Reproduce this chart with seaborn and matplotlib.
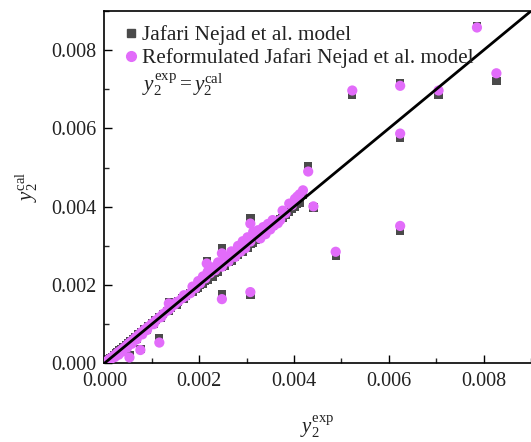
import matplotlib
matplotlib.use("Agg")
import matplotlib.pyplot as plt
import seaborn as sns
import pandas as pd
from matplotlib.lines import Line2D
from matplotlib.ticker import MultipleLocator

# ---- data ----
x_exp = [0.00001, 0.00003, 0.00005, 0.00008, 0.00010, 0.00013, 0.00016, 0.00020,
         0.00024, 0.00028, 0.00032, 0.00036, 0.00040, 0.00045, 0.00050, 0.00055,
         0.00060, 0.00066, 0.00072, 0.00078, 0.00085, 0.00092, 0.00100, 0.00108,
         0.00116, 0.00124, 0.00132, 0.00140, 0.00148, 0.00156, 0.00164, 0.00172,
         0.00181, 0.00192, 0.00202, 0.00213, 0.00223, 0.00234, 0.00248, 0.00262,
         0.00276, 0.00287, 0.00297, 0.00308, 0.00319, 0.00329, 0.00340, 0.00350,
         0.00358, 0.00366, 0.00371, 0.00382, 0.00396, 0.00407, 0.00419,
         0.00004, 0.00012, 0.00022, 0.00030, 0.00038, 0.00048, 0.00058, 0.00068,
         0.00080, 0.00090, 0.00104, 0.00120, 0.00136, 0.00152, 0.00168, 0.00186,
         0.00198, 0.00208, 0.00218, 0.00228, 0.00240, 0.00255, 0.00268, 0.00282,
         0.00292, 0.00302, 0.00314, 0.00324, 0.00335, 0.00345, 0.00355, 0.00376,
         0.00390, 0.00402, 0.00412,
         # scattered points
         0.00053, 0.00076, 0.00116, 0.00136, 0.00216, 0.00248, 0.00248, 0.00308,
         0.00308, 0.00430, 0.00441, 0.00488, 0.00523, 0.00624, 0.00624, 0.00624,
         0.00705, 0.00786, 0.00827]

y_jafari = [0.00002, 0.00004, 0.00006, 0.00008, 0.00011, 0.00013, 0.00017, 0.00021,
            0.00025, 0.00029, 0.00033, 0.00037, 0.00041, 0.00046, 0.00051, 0.00056,
            0.00061, 0.00068, 0.00074, 0.00080, 0.00087, 0.00094, 0.00102, 0.00110,
            0.00118, 0.00126, 0.00134, 0.00142, 0.00150, 0.00158, 0.00166, 0.00172,
            0.00180, 0.00190, 0.00200, 0.00211, 0.00221, 0.00232, 0.00246, 0.00260,
            0.00273, 0.00284, 0.00294, 0.00305, 0.00316, 0.00327, 0.00338, 0.00349,
            0.00358, 0.00363, 0.00369, 0.00380, 0.00394, 0.00408, 0.00430,
            0.00003, 0.00010, 0.00019, 0.00026, 0.00033, 0.00043, 0.00052, 0.00062,
            0.00075, 0.00085, 0.00100, 0.00117, 0.00134, 0.00150, 0.00166, 0.00183,
            0.00194, 0.00204, 0.00213, 0.00222, 0.00234, 0.00249, 0.00262, 0.00276,
            0.00286, 0.00296, 0.00308, 0.00318, 0.00330, 0.00340, 0.00351, 0.00372,
            0.00386, 0.00399, 0.00410,
            0.00020, 0.00036, 0.00064, 0.00156, 0.00260, 0.00294, 0.00176, 0.00370,
            0.00176, 0.00503, 0.00398, 0.00274, 0.00685, 0.00715, 0.00576, 0.00338,
            0.00685, 0.00862, 0.00721]

y_reform = [0.00001, 0.00003, 0.00005, 0.00007, 0.00010, 0.00012, 0.00015, 0.00019,
            0.00022, 0.00027, 0.00030, 0.00034, 0.00038, 0.00043, 0.00049, 0.00054,
            0.00059, 0.00066, 0.00072, 0.00079, 0.00086, 0.00093, 0.00101, 0.00109,
            0.00117, 0.00126, 0.00134, 0.00142, 0.00150, 0.00158, 0.00166, 0.00172,
            0.00179, 0.00192, 0.00204, 0.00217, 0.00230, 0.00238, 0.00247, 0.00260,
            0.00272, 0.00285, 0.00294, 0.00311, 0.00332, 0.00319, 0.00330, 0.00342,
            0.00352, 0.00358, 0.00366, 0.00383, 0.00404, 0.00426, 0.00442,
            0.00001, 0.00008, 0.00016, 0.00022, 0.00030, 0.00040, 0.00050, 0.00061,
            0.00074, 0.00085, 0.00100, 0.00118, 0.00137, 0.00156, 0.00174, 0.00196,
            0.00210, 0.00222, 0.00234, 0.00245, 0.00258, 0.00272, 0.00286, 0.00300,
            0.00312, 0.00322, 0.00336, 0.00340, 0.00348, 0.00356, 0.00366, 0.00390,
            0.00408, 0.00420, 0.00432,
            0.00015, 0.00034, 0.00053, 0.00153, 0.00255, 0.00281, 0.00164, 0.00357,
            0.00182, 0.00490, 0.00401, 0.00285, 0.00697, 0.00709, 0.00587, 0.00351,
            0.00697, 0.00858, 0.00741]

diag = [0.0, 0.009]

x_ticks = [0.000, 0.002, 0.004, 0.006, 0.008]
y_ticks = [0.000, 0.002, 0.004, 0.006, 0.008]

labels = ["Jafari Nejad et al. model",
          "Reformulated Jafari Nejad et al. model",
          r"$y_2^{\mathrm{exp}} = y_2^{\mathrm{cal}}$"]

sq_color = "#4a4a4a"
ci_color = "#e26cfa"

# ---- style ----
sns.set_theme(style="white")
plt.rcParams["font.family"] = ["Liberation Serif", "DejaVu Serif"]
plt.rcParams["mathtext.fontset"] = "custom"
plt.rcParams["mathtext.rm"] = "Liberation Serif"
plt.rcParams["mathtext.it"] = "Liberation Serif:italic"
plt.rcParams["mathtext.bf"] = "Liberation Serif:bold"

df = pd.DataFrame({"x": x_exp, "jaf": y_jafari, "ref": y_reform})
dline = pd.DataFrame({"x": diag, "y": diag})

fig = plt.figure(figsize=(5.31, 4.42), dpi=100)
ax = fig.add_axes([0.1965, 0.178, 0.8035, 0.797])

sns.scatterplot(data=df, x="x", y="jaf", marker="s", s=36, color=sq_color,
                edgecolor="none", linewidth=0, ax=ax, zorder=2)
sns.scatterplot(data=df, x="x", y="ref", marker="o", s=54, color=ci_color,
                edgecolor="none", linewidth=0, ax=ax, zorder=3)
sns.lineplot(data=dline, x="x", y="y", color="black", linewidth=2, ax=ax, zorder=4)

ax.set_xlim(0, 0.009)
ax.set_ylim(0, 0.009)
ax.set_xticks(x_ticks)
ax.set_yticks(y_ticks)
ax.set_xticklabels([f"{v:.3f}" for v in x_ticks])
ax.set_yticklabels([f"{v:.3f}" for v in y_ticks])
ax.xaxis.set_minor_locator(MultipleLocator(0.001))
ax.yaxis.set_minor_locator(MultipleLocator(0.001))
ax.tick_params(axis="both", which="major", direction="in", length=6, width=1,
               labelsize=14.5, colors="black", bottom=True, left=True, pad=6)
ax.tick_params(axis="both", which="minor", direction="in", length=3.5, width=1,
               bottom=True, left=True)
for lab in ax.get_xticklabels() + ax.get_yticklabels():
    lab.set_color("#222222")

for s in ["left", "bottom", "top"]:
    ax.spines[s].set_visible(True)
    ax.spines[s].set_color("black")
    ax.spines[s].set_linewidth(1.2)
ax.spines["right"].set_visible(False)

ax.set_xlabel(r"$y_2^{\mathrm{exp}}$", fontsize=15, labelpad=16, color="#222222")
ax.set_ylabel(r"$y_2^{\mathrm{cal}}$", fontsize=15, labelpad=8, color="#222222")

handles = [Line2D([], [], marker="s", linestyle="none", color=sq_color, markersize=6),
           Line2D([], [], marker="o", linestyle="none", color=ci_color, markersize=7),
           Line2D([], [], linestyle="none", marker=None)]
leg = ax.legend(handles, labels, loc="upper left", frameon=False, fontsize=15.3,
                handlelength=0.5, handletextpad=0.25, labelspacing=0.15,
                borderaxespad=0.0, borderpad=0.3, bbox_to_anchor=(0.035, 0.978))
for t in leg.get_texts():
    t.set_color("#222222")

fig.savefig("out.png", dpi=100)
